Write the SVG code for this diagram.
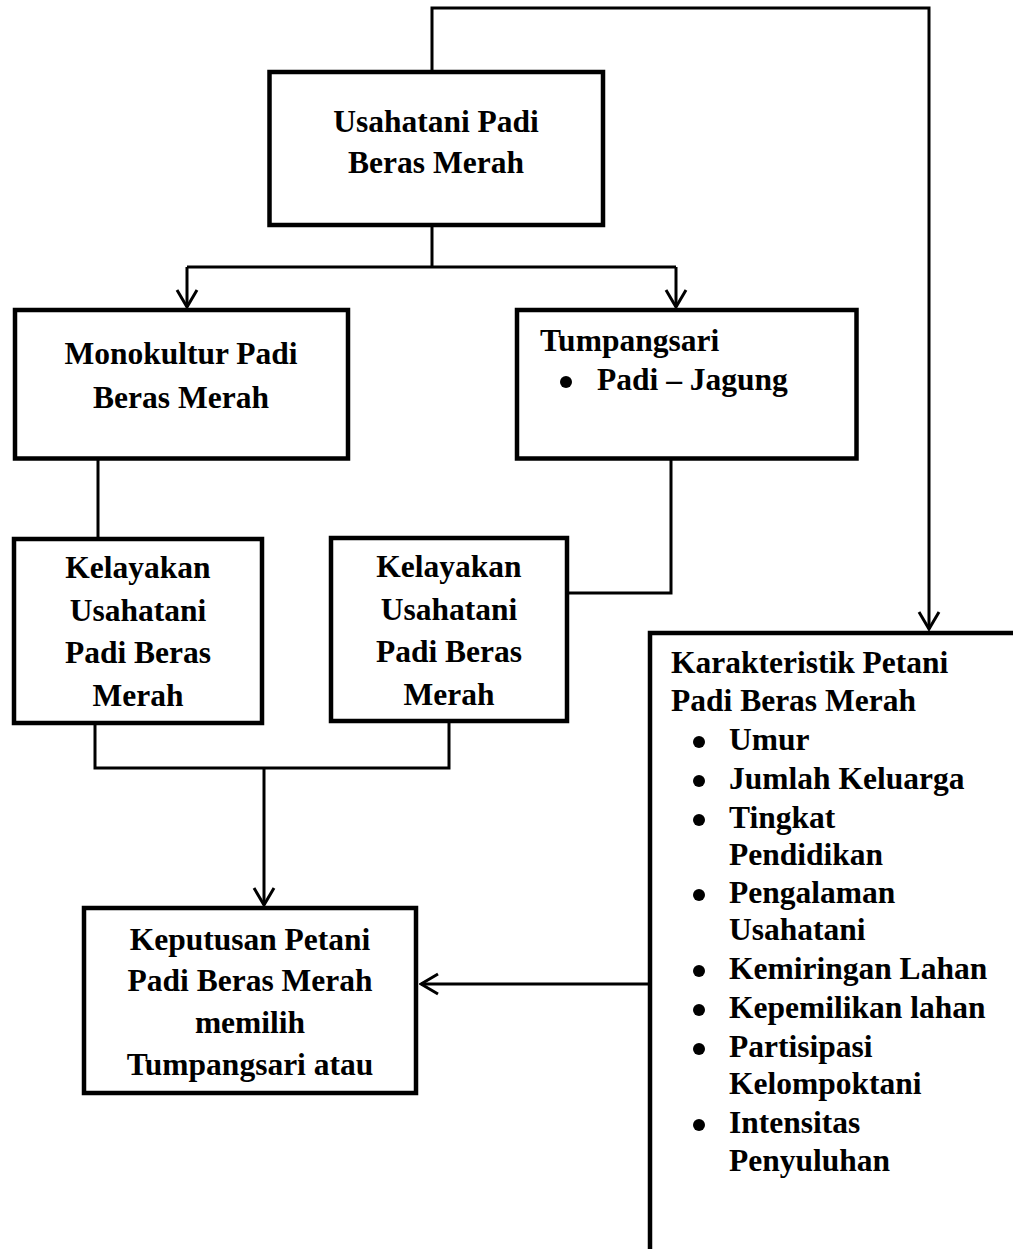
<svg xmlns="http://www.w3.org/2000/svg" width="1013" height="1249" viewBox="0 0 1013 1249">
<style>
.box{fill:#fff;stroke:#000;stroke-width:4.5}
.con{fill:none;stroke:#000;stroke-width:3}
.dot{fill:#000}
text{font-family:"Liberation Serif","Times New Roman",serif;font-weight:bold;font-size:31.5px;fill:#000}
.c{text-anchor:middle}
</style>
<defs>
<marker id="arr" markerUnits="userSpaceOnUse" viewBox="0 0 20 24" markerWidth="20" markerHeight="24" refX="18" refY="12" orient="auto">
<path d="M1,2 L18,12 L1,22" fill="none" stroke="#000" stroke-width="3"/>
</marker>
</defs>
<rect width="1013" height="1249" fill="#fff"/>
<g id="connectors">
<path class="con" d="M432,70 V8 H929 V629" marker-end="url(#arr)"/>
<path class="con" d="M432,227 V267"/>
<path class="con" d="M187,267 H676"/>
<path class="con" d="M187,267 V307" marker-end="url(#arr)"/>
<path class="con" d="M676,267 V307" marker-end="url(#arr)"/>
<path class="con" d="M98,460 V537"/>
<path class="con" d="M671,460 V593 H569"/>
<path class="con" d="M95,725 V768 H449 V723"/>
<path class="con" d="M264,768 V905" marker-end="url(#arr)"/>
<path class="con" d="M648,984 H421" marker-end="url(#arr)"/>
</g>
<g id="usahatani">
<rect class="box" x="269.5" y="72" width="333.5" height="153"/>
<text class="c" x="436" y="132">Usahatani Padi</text>
<text class="c" x="436" y="173">Beras Merah</text>
</g>
<g id="monokultur">
<rect class="box" x="15" y="310" width="333" height="148.5"/>
<text class="c" x="181" y="364">Monokultur Padi</text>
<text class="c" x="181" y="408">Beras Merah</text>
</g>
<g id="tumpangsari">
<rect class="box" x="517" y="310" width="339.5" height="148.5"/>
<text x="540" y="351">Tumpangsari</text>
<circle class="dot" cx="566" cy="382" r="6"/>
<text x="597" y="390">Padi – Jagung</text>
</g>
<g id="kelayakan1">
<rect class="box" x="14" y="539" width="248" height="184"/>
<text class="c" x="138" y="578">Kelayakan</text>
<text class="c" x="138" y="621">Usahatani</text>
<text class="c" x="138" y="663">Padi Beras</text>
<text class="c" x="138" y="706">Merah</text>
</g>
<g id="kelayakan2">
<rect class="box" x="331" y="538" width="236" height="183"/>
<text class="c" x="449" y="577">Kelayakan</text>
<text class="c" x="449" y="620">Usahatani</text>
<text class="c" x="449" y="662">Padi Beras</text>
<text class="c" x="449" y="705">Merah</text>
</g>
<g id="keputusan">
<rect class="box" x="84" y="908" width="332" height="185"/>
<text class="c" x="250" y="950">Keputusan Petani</text>
<text class="c" x="250" y="991">Padi Beras Merah</text>
<text class="c" x="250" y="1033">memilih</text>
<text class="c" x="250" y="1075">Tumpangsari atau</text>
</g>
<g id="karakteristik">
<rect class="box" x="650" y="633" width="500" height="800"/>
<text x="671" y="673">Karakteristik Petani</text>
<text x="671" y="711">Padi Beras Merah</text>
<circle class="dot" cx="699" cy="742" r="6"/>
<text x="729" y="750">Umur</text>
<circle class="dot" cx="699" cy="781" r="6"/>
<text x="729" y="789">Jumlah Keluarga</text>
<circle class="dot" cx="699" cy="820" r="6"/>
<text x="729" y="828">Tingkat</text>
<text x="729" y="865">Pendidikan</text>
<circle class="dot" cx="699" cy="895" r="6"/>
<text x="729" y="903">Pengalaman</text>
<text x="729" y="940">Usahatani</text>
<circle class="dot" cx="699" cy="971" r="6"/>
<text x="729" y="979">Kemiringan Lahan</text>
<circle class="dot" cx="699" cy="1010" r="6"/>
<text x="729" y="1018">Kepemilikan lahan</text>
<circle class="dot" cx="699" cy="1049" r="6"/>
<text x="729" y="1057">Partisipasi</text>
<text x="729" y="1094">Kelompoktani</text>
<circle class="dot" cx="699" cy="1125" r="6"/>
<text x="729" y="1133">Intensitas</text>
<text x="729" y="1171">Penyuluhan</text>
</g>
</svg>
